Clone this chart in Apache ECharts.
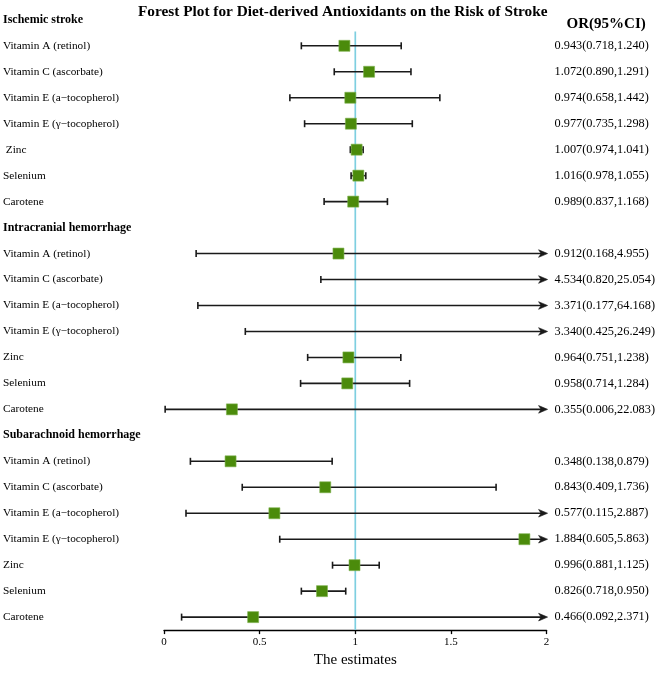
<!DOCTYPE html>
<html>
<head>
<meta charset="utf-8">
<script src="https://cdn.jsdelivr.net/npm/echarts@6/dist/echarts.min.js"></script>
<style>html,body{margin:0;padding:0;background:#fff;}#c{width:658px;height:673px;}</style>
</head>
<body>
<div id="c"></div>
<script>
const titleText = 'Forest Plot for Diet-derived Antioxidants on the Risk of Stroke';
const groups = ['Ischemic stroke', 'Intracranial hemorrhage', 'Subarachnoid hemorrhage'];
const items = ['Vitamin A (retinol)', 'Vitamin C (ascorbate)', 'Vitamin E (a\u2212tocopherol)', 'Vitamin E (\u03b3\u2212tocopherol)', 'Zinc', 'Selenium', 'Carotene'];

const orIschemic = [0.943, 1.072, 0.974, 0.977, 1.007, 1.016, 0.989];
const loIschemic = [0.718, 0.890, 0.658, 0.735, 0.974, 0.978, 0.837];
const hiIschemic = [1.240, 1.291, 1.442, 1.298, 1.041, 1.055, 1.168];

const orIntracranial = [0.912, 4.534, 3.371, 3.340, 0.964, 0.958, 0.355];
const loIntracranial = [0.168, 0.820, 0.177, 0.425, 0.751, 0.714, 0.006];
const hiIntracranial = [4.955, 25.054, 64.168, 26.249, 1.238, 1.284, 22.083];

const orSubarachnoid = [0.348, 0.843, 0.577, 1.884, 0.996, 0.826, 0.466];
const loSubarachnoid = [0.138, 0.409, 0.115, 0.605, 0.881, 0.718, 0.092];
const hiSubarachnoid = [0.879, 1.736, 2.887, 5.863, 1.125, 0.950, 2.371];

const xTicks = [0, 0.5, 1, 1.5, 2];
const X_MIN = 0, X_MAX = 2;

const ORS = [orIschemic, orIntracranial, orSubarachnoid];
const LOS = [loIschemic, loIntracranial, loSubarachnoid];
const HIS = [hiIschemic, hiIntracranial, hiSubarachnoid];

const rows = [];
groups.forEach((g, gi) => {
  rows.push({ label: g, header: true });
  items.forEach((it, k) => {
    rows.push({ label: (gi === 0 && it === 'Zinc') ? ' Zinc' : it, or: ORS[gi][k], lo: LOS[gi][k], hi: HIS[gi][k] });
  });
});

const leftCats = rows.map(r => r.label);
const rightCats = rows.map((r, i) => i === 0 ? 'OR(95%CI)' : (r.header ? '' : r.or.toFixed(3) + '(' + r.lo.toFixed(3) + ',' + r.hi.toFixed(3) + ')'));

const barData = [];
const pointData = [];
rows.forEach((r, i) => {
  if (r.header) return;
  barData.push([i, r.lo, r.hi]);
  if (r.or <= X_MAX) pointData.push([r.or, i]);
});

const FONT = '"Liberation Serif", "DejaVu Serif", serif';
const BAR = '#1a1a1a';

const chart = echarts.init(document.getElementById('c'));
chart.setOption({
  animation: false,
  backgroundColor: '#fff',
  title: {
    text: titleText,
    left: 133, top: 0,
    textStyle: { fontFamily: FONT, fontSize: 15.3, fontWeight: 'bold', color: '#000' }
  },
  grid: { left: 164, right: 107, top: 6.85, bottom: 35 },
  xAxis: {
    type: 'value', min: X_MIN, max: X_MAX, interval: 0.5,
    name: 'The estimates', nameLocation: 'middle', nameGap: 22,
    nameTextStyle: { fontFamily: FONT, fontSize: 15, color: '#000' },
    axisLine: { show: true, lineStyle: { color: '#000', width: 1.3 } },
    axisTick: { show: true, length: 4, lineStyle: { color: '#000', width: 1.3 } },
    axisLabel: { fontFamily: FONT, fontSize: 11, color: '#000', margin: 7,
      formatter: v => { const t = xTicks.find(x => Math.abs(x - v) < 1e-9); return t === undefined ? '' : String(t); } },
    splitLine: { show: false }
  },
  yAxis: [{
    type: 'category', inverse: true, data: leftCats,
    axisLine: { show: false }, axisTick: { show: false }, splitLine: { show: false },
    axisLabel: {
      interval: 0, align: 'left', margin: 161,
      formatter: (v, idx) => rows[idx].header ? '{h|' + v + '}' : '{n|' + v + '}',
      rich: {
        h: { fontFamily: FONT, fontSize: 12, fontWeight: 'bold', color: '#000' },
        n: { fontFamily: FONT, fontSize: 11.3, color: '#000' }
      }
    }
  }, {
    type: 'category', inverse: true, position: 'right', data: rightCats,
    axisLine: { show: false }, axisTick: { show: false }, splitLine: { show: false },
    axisLabel: {
      interval: 0, align: 'left', margin: 8,
      formatter: (v, idx) => idx === 0 ? '{h|' + v + '}' : '{n|' + v + '}',
      rich: {
        h: { fontFamily: FONT, fontSize: 15, fontWeight: 'bold', color: '#000', padding: [8, 0, 0, 12] },
        n: { fontFamily: FONT, fontSize: 12.3, color: '#000' }
      }
    }
  }],
  series: [{
    type: 'custom', name: 'ref', z: 1,
    data: [[0]],
    renderItem: (params, api) => {
      const h = api.size([0, 1])[1];
      const top = api.coord([1, 0]);
      const bot = api.coord([1, rows.length - 1]);
      return { type: 'line', shape: { x1: top[0], y1: top[1] + 0.45 * h, x2: bot[0], y2: bot[1] + 0.5 * h },
        style: { stroke: '#7ecfe0', lineWidth: 1.7 } };
    }
  }, {
    type: 'custom', name: 'ci', z: 2,
    data: barData,
    encode: { y: 0, x: [1, 2] },
    renderItem: (params, api) => {
      const i = api.value(0), lo = api.value(1), hi = api.value(2);
      const y = api.coord([0, i])[1];
      const xa = api.coord([Math.max(lo, X_MIN), i])[0];
      const xb = api.coord([Math.min(hi, X_MAX), i])[0];
      const children = [];
      const arrow = hi > X_MAX;
      children.push({ type: 'line', shape: { x1: xa, y1: y, x2: arrow ? xb - 5 : xb, y2: y }, style: { stroke: BAR, lineWidth: 1.6 } });
      if (lo >= X_MIN) children.push({ type: 'line', shape: { x1: xa, y1: y - 3.5, x2: xa, y2: y + 3.5 }, style: { stroke: BAR, lineWidth: 1.6 } });
      if (!arrow) {
        children.push({ type: 'line', shape: { x1: xb, y1: y - 3.5, x2: xb, y2: y + 3.5 }, style: { stroke: BAR, lineWidth: 1.6 } });
      } else {
        children.push({ type: 'polygon', shape: { points: [[xb + 1, y], [xb - 8, y - 3.8], [xb - 5.5, y], [xb - 8, y + 3.8]] }, style: { fill: BAR, stroke: BAR, lineWidth: 0.6 } });
      }
      return { type: 'group', children };
    }
  }, {
    type: 'scatter', name: 'or', z: 3,
    data: pointData,
    symbol: 'rect', symbolSize: 11,
    itemStyle: { color: '#4b8b0b', borderColor: '#7db24f', borderWidth: 0.6, opacity: 1 }
  }]
});
</script>
</body>
</html>
